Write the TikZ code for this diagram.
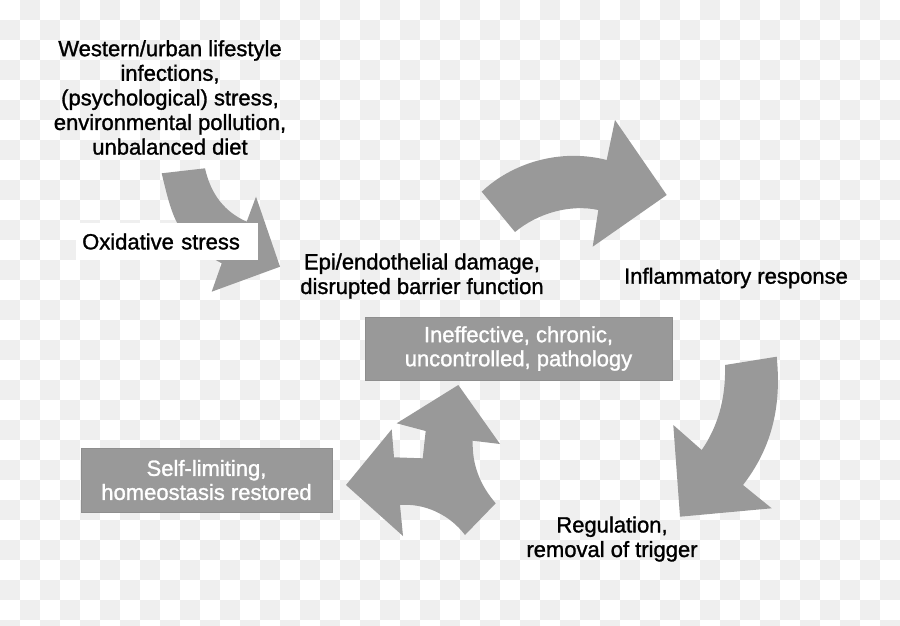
\documentclass[tikz,border=0pt]{standalone}
\usepackage{fontspec}
\setmainfont{Liberation Sans}[FakeBold=1.3]
\definecolor{arrowgray}{HTML}{999999}
\definecolor{boxedge}{HTML}{8E8E8E}
\definecolor{checkgray}{HTML}{EFEFEF}
\tikzset{
  lbl/.style={align=center, text=black, inner sep=0pt, font=\fontsize{22}{24.6}\selectfont},
  graybox/.style={fill=arrowgray, draw=boxedge, line width=1pt, align=center, text=white, inner sep=0pt, font=\fontsize{22}{24}\selectfont},
  shapefill/.style={fill=arrowgray, draw=none}
}
\begin{document}
\begin{tikzpicture}[x=1pt,y=-1pt]
\useasboundingbox (0,0) rectangle (900,626);
% checkerboard background
\begin{scope}
\clip (0,0) rectangle (900,626);
\fill[white] (0,0) rectangle (900,626);
\foreach \j in {0,2,...,30} {
  \foreach \i in {1,3,...,43} {
    \fill[checkgray] (\i*20,\j*20) rectangle ++(20,20);
  }
}
\foreach \j in {1,3,...,31} {
  \foreach \i in {0,2,...,44} {
    \fill[checkgray] (\i*20,\j*20) rectangle ++(20,20);
  }
}
\end{scope}

% arrow A (top-left, curved down-right)
\fill[shapefill] (161.7,173.3) .. controls (168,200) and (172,215) .. (180,228)
  .. controls (192,246) and (208,256) .. (221.7,263.3) -- (211.7,291.7) -- (280,266.7)
  -- (256,196.7) -- (246.7,221.7) .. controls (225,212) and (211,195) .. (205,168.3) -- cycle;

% arrow B (top-right, curved rightwards)
\fill[shapefill] (481.7,191.7) .. controls (512,163) and (560,148) .. (606.7,160)
  -- (615,120) -- (666.7,195) -- (592.7,246.7) -- (598.3,210)
  .. controls (570,204) and (538,213) .. (515,232) -- cycle;

% arrow C (right, curved downwards)
\fill[shapefill] (725,365) -- (776.7,356.7) .. controls (782,410) and (770,450) .. (743,485)
  -- (771.7,508.3) -- (680,516.7) -- (673.3,425) -- (701.7,450)
  .. controls (717,428) and (726,400) .. (725,365) -- cycle;

% arrow D (split: up and left)
\fill[shapefill] (458.3,385) -- (500,444) -- (472.7,440.7)
  .. controls (472,465) and (480,485) .. (495.7,503.3) -- (465,535)
  .. controls (450,515) and (425,503) .. (400,505) -- (403,536) -- (346,485)
  -- (391.7,429.3) -- (394,457.3) -- (422.7,458.3) -- (425.7,431) -- (396.7,423.3) -- cycle;

% texts
\node[lbl] (causes) at (170,97.5) {Western/urban lifestyle\\infections,\\(psychological) stress,\\environmental pollution,\\unbalanced diet};
\node[lbl, fill=white, anchor=west, minimum height=37pt, text width=170pt, inner xsep=6pt, align=left] (oxi) at (76,241.5) {Oxidative stress};
\node[lbl] (epi) at (422,276) {Epi/endothelial damage,\\disrupted barrier function};
\node[lbl] (inflam) at (736,278) {Inflammatory response};
\node[lbl] (reg) at (612,539) {Regulation,\\removal of trigger};
\node[graybox, minimum width=307pt, minimum height=63pt] (chronic) at (518.5,348.5) {Ineffective, chronic,\\uncontrolled, pathology};
\node[graybox, minimum width=251pt, minimum height=64pt] (self) at (206.5,480) {Self-limiting,\\homeostasis restored};
\end{tikzpicture}
\end{document}
